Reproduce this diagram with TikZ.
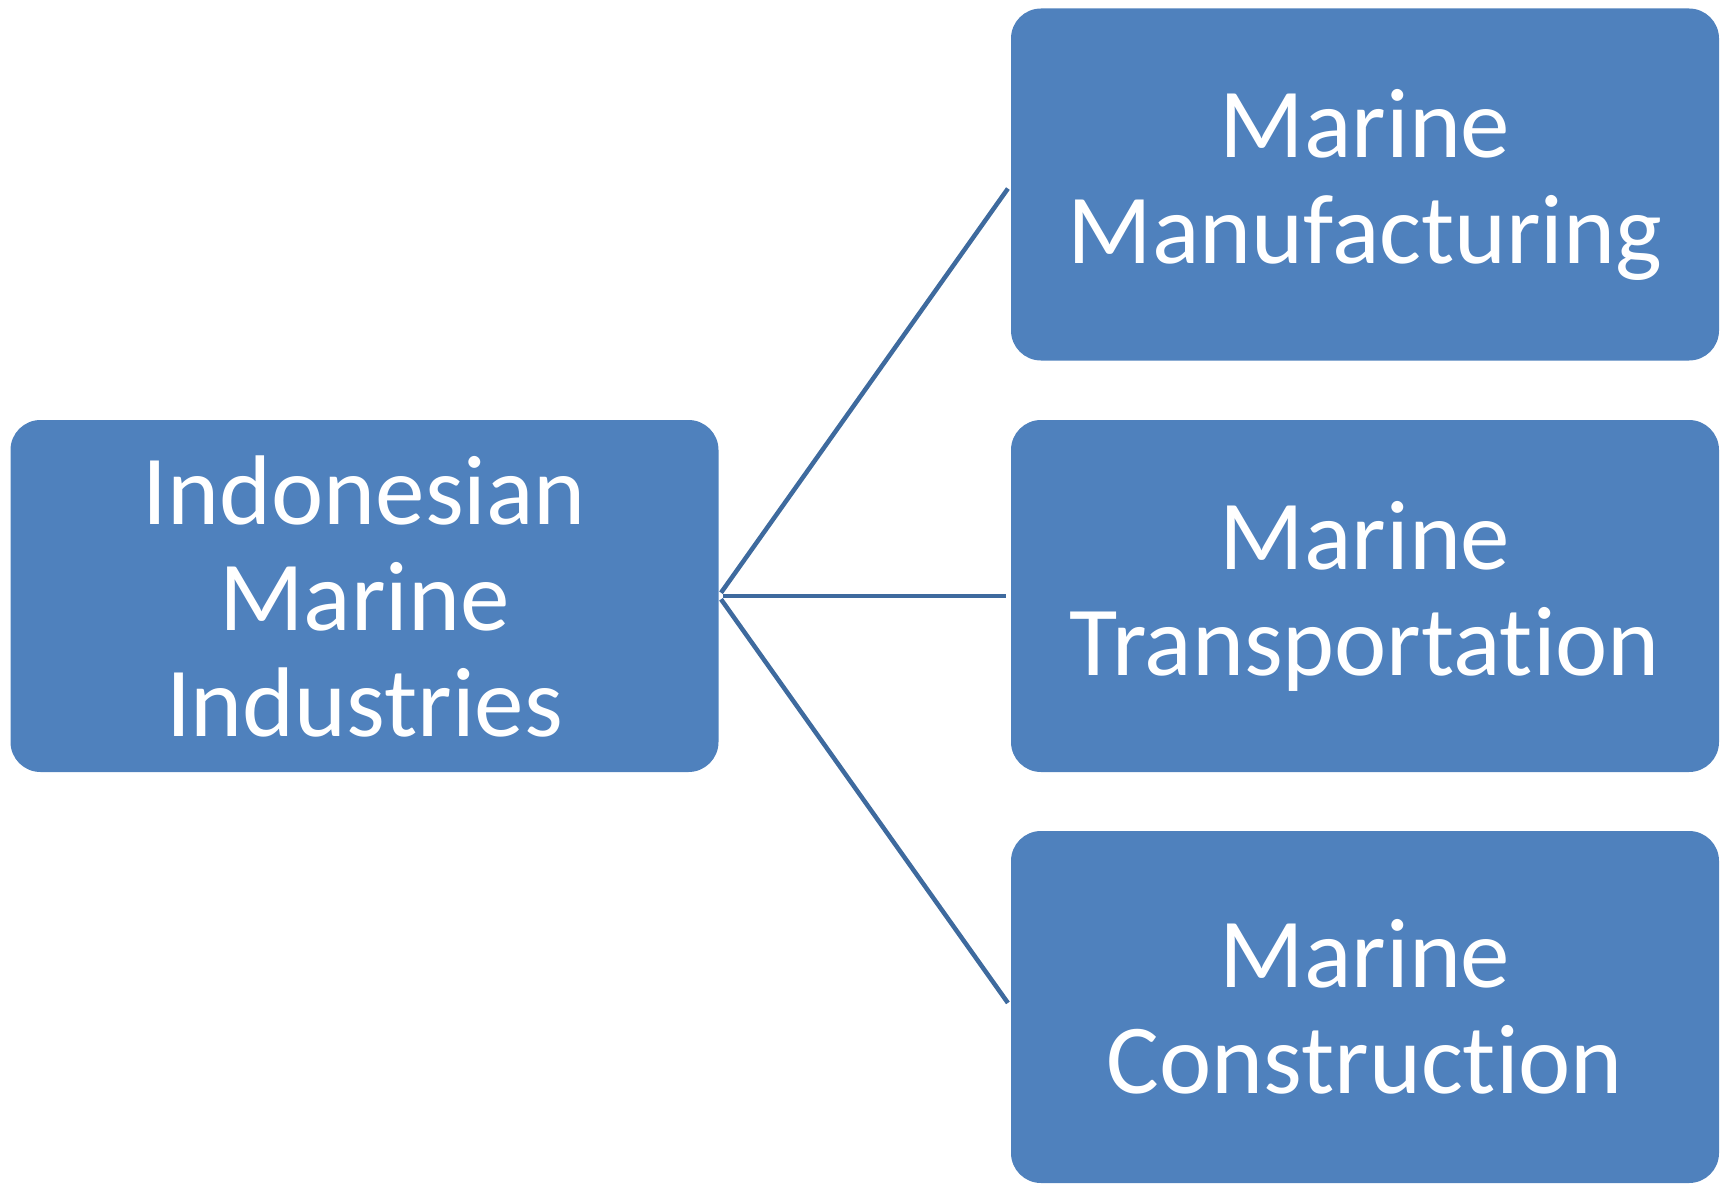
\documentclass[tikz,border=0pt]{standalone}
\usepackage{fontspec}
\setmainfont[RawFeature=-liga]{Carlito}
\definecolor{boxblue}{HTML}{4F81BD}
\definecolor{lineblue}{HTML}{3E6A9E}
\begin{document}
\begin{tikzpicture}[x=1pt,y=-1pt,
  box/.style={fill=boxblue,draw=none,rounded corners=30pt,minimum width=708pt,minimum height=352pt,
    text=white,align=center,inner sep=0pt,font=\fontsize{99}{106}\selectfont},
  link/.style={draw=lineblue,line width=4.5pt,shorten <=4pt,shorten >=5pt}]
\useasboundingbox (0,0) rectangle (1721,1185);
\node[box] (root) at (364.5,596) {Indonesian\\Marine\\Industries};
\node[box] (manu) at (1365,184.5) {Marine\\Manufacturing};
\node[box] (trans) at (1365,596) {Marine\\Transportation};
\node[box] (cons) at (1365,1007) {Marine\\Construction};
\draw[link] (root.east) -- (manu.west);
\draw[link] (root.east) -- (trans.west);
\draw[link] (root.east) -- (cons.west);
\end{tikzpicture}
\end{document}
